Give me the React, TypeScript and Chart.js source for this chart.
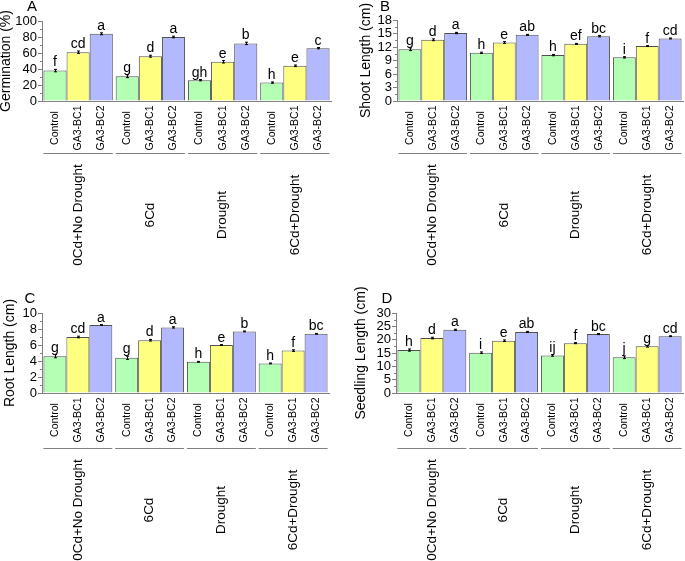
import React, { useEffect, useRef } from 'react';
import { Chart, registerables } from 'chart.js';

Chart.register(...registerables);

const GROUPS = ['0Cd+No Drought', '6Cd', 'Drought', '6Cd+Drought'];
const TREATMENTS = ['Control', 'GA3-BC1', 'GA3-BC2'];
const COLORS = ['#b3ffb3', '#ffff80', '#b3b9ff'];
const FONT = 'Liberation Sans, Arial, Helvetica, sans-serif';

// A: Germination (%)
const germControl = [38, 31, 26, 23];
const germBC1 = [61, 56, 49, 44];
const germBC2 = [84, 80, 72, 66];
const germErrControl = [1.5, 1.8, 0.8, 0.8];
const germErrBC1 = [1.5, 1.2, 1.5, 1.0];
const germErrBC2 = [1.2, 1.0, 1.5, 0.8];
const germLetters = [['f', 'g', 'gh', 'h'], ['cd', 'd', 'e', 'e'], ['a', 'a', 'b', 'c']];

// B: Shoot Length (cm)
const shootControl = [11.5, 10.7, 10.2, 9.7];
const shootBC1 = [13.6, 13.0, 12.7, 12.2];
const shootBC2 = [15.1, 14.7, 14.4, 13.9];
const shootErrControl = [0.3, 0.15, 0.15, 0.15];
const shootErrBC1 = [0.2, 0.2, 0.1, 0.1];
const shootErrBC2 = [0.15, 0.1, 0.15, 0.1];
const shootLetters = [['g', 'h', 'h', 'i'], ['d', 'e', 'ef', 'f'], ['a', 'ab', 'bc', 'cd']];

// C: Root Length (cm)
const rootControl = [4.6, 4.4, 3.9, 3.7];
const rootBC1 = [7.0, 6.6, 6.0, 5.3];
const rootBC2 = [8.5, 8.2, 7.7, 7.4];
const rootErrControl = [0.2, 0.2, 0.05, 0.05];
const rootErrBC1 = [0.1, 0.1, 0.05, 0.1];
const rootErrBC2 = [0.05, 0.08, 0.05, 0.05];
const rootLetters = [['g', 'g', 'h', 'h'], ['cd', 'd', 'e', 'f'], ['a', 'a', 'b', 'bc']];

// D: Seedling Length (cm)
const seedControl = [16.1, 15.1, 14.1, 13.4];
const seedBC1 = [20.6, 19.6, 18.7, 17.5];
const seedBC2 = [23.7, 22.9, 22.1, 21.3];
const seedErrControl = [0.4, 0.3, 0.3, 0.5];
const seedErrBC1 = [0.3, 0.3, 0.2, 0.3];
const seedErrBC2 = [0.2, 0.2, 0.2, 0.15];
const seedLetters = [['h', 'i', 'ij', 'j'], ['d', 'e', 'f', 'g'], ['a', 'ab', 'bc', 'cd']];

type PanelCfg = {
  letter: string;
  title: string;
  max: number;
  step: number;
  values: number[][];
  errs: number[][];
  letters: string[][];
  left: number;
  top: number;
  width: number;
  height: number;
  axisX: number;
  plotTop: number;
  plotBottom: number;
  plotRight: number;
  titleX: number;
  letterX: number;
  letterY: number;
  labelOff: number;
  lineOff: number;
  groupOff: number;
};

const PANELS: PanelCfg[] = [
  {
    letter: 'A', title: 'Germination (%)', max: 100, step: 20,
    values: [germControl, germBC1, germBC2],
    errs: [germErrControl, germErrBC1, germErrBC2],
    letters: germLetters,
    left: 0, top: 0, width: 342, height: 280,
    axisX: 42, plotTop: 21, plotBottom: 101, plotRight: 331,
    titleX: 6, letterX: 32, letterY: 7,
    labelOff: 27, lineOff: 52, groupOff: 114,
  },
  {
    letter: 'B', title: 'Shoot Length (cm)', max: 18, step: 3,
    values: [shootControl, shootBC1, shootBC2],
    errs: [shootErrControl, shootErrBC1, shootErrBC2],
    letters: shootLetters,
    left: 342, top: 0, width: 343, height: 280,
    axisX: 55, plotTop: 20, plotBottom: 101, plotRight: 341,
    titleX: 24, letterX: 43, letterY: 7,
    labelOff: 27, lineOff: 52, groupOff: 114,
  },
  {
    letter: 'C', title: 'Root Length (cm)', max: 10, step: 2,
    values: [rootControl, rootBC1, rootBC2],
    errs: [rootErrControl, rootErrBC1, rootErrBC2],
    letters: rootLetters,
    left: 0, top: 280, width: 342, height: 281,
    axisX: 42, plotTop: 33, plotBottom: 113, plotRight: 329,
    titleX: 10.5, letterX: 30, letterY: 18.5,
    labelOff: 27, lineOff: 55, groupOff: 117,
  },
  {
    letter: 'D', title: 'Seedling Length (cm)', max: 30, step: 5,
    values: [seedControl, seedBC1, seedBC2],
    errs: [seedErrControl, seedErrBC1, seedErrBC2],
    letters: seedLetters,
    left: 342, top: 280, width: 343, height: 281,
    axisX: 54, plotTop: 33, plotBottom: 113, plotRight: 341,
    titleX: 19.5, letterX: 45, letterY: 18.5,
    labelOff: 27, lineOff: 55, groupOff: 117,
  },
];

function Panel({ p }: { p: PanelCfg }) {
  const ref = useRef<HTMLCanvasElement>(null);
  useEffect(() => {
    const overlay = {
      id: 'overlay',
      afterDraw(chart: any) {
        const ctx = chart.ctx as CanvasRenderingContext2D;
        const y = chart.scales.y;
        const area = chart.chartArea;
        ctx.save();
        // minor ticks
        ctx.strokeStyle = '#808080';
        ctx.lineWidth = 1;
        for (let v = p.step / 2; v < p.max; v += p.step) {
          const py = Math.round(y.getPixelForValue(v)) + 0.5;
          ctx.beginPath();
          ctx.moveTo(area.left - 2, py);
          ctx.lineTo(area.left, py);
          ctx.stroke();
        }
        // error bars and letters
        for (let i = 0; i < 3; i++) {
          const meta = chart.getDatasetMeta(i);
          meta.data.forEach((bar: any, j: number) => {
            const v = p.values[i][j];
            const e = p.errs[i][j];
            const x = Math.round(bar.x) + 0.5;
            const yt = y.getPixelForValue(v + e);
            const yb = y.getPixelForValue(v - e);
            ctx.strokeStyle = '#000';
            ctx.beginPath();
            ctx.moveTo(x, yt);
            ctx.lineTo(x, yb);
            ctx.moveTo(x - 1.5, yt);
            ctx.lineTo(x + 1.5, yt);
            ctx.moveTo(x - 1.5, yb);
            ctx.lineTo(x + 1.5, yb);
            ctx.stroke();
            ctx.fillStyle = '#000';
            ctx.font = `14px ${FONT}`;
            ctx.textAlign = 'center';
            ctx.textBaseline = 'alphabetic';
            ctx.fillText(p.letters[i][j], bar.x, yt - 3);
            // tick label under bar
            ctx.save();
            ctx.translate(bar.x, area.bottom + p.labelOff);
            ctx.rotate(-Math.PI / 2);
            ctx.font = `10.5px ${FONT}`;
            ctx.textAlign = 'center';
            ctx.textBaseline = 'middle';
            ctx.fillText(TREATMENTS[i], 0, 0);
            ctx.restore();
          });
        }
        // group lines and labels
        const m0 = chart.getDatasetMeta(0);
        const m2 = chart.getDatasetMeta(2);
        GROUPS.forEach((g, j) => {
          const b0 = m0.data[j] as any;
          const b2 = m2.data[j] as any;
          const x0 = b0.x - b0.width / 2;
          const x1 = b2.x + b2.width / 2;
          const ly = Math.round(area.bottom + p.lineOff) + 0.5;
          ctx.strokeStyle = '#808080';
          ctx.beginPath();
          ctx.moveTo(x0, ly);
          ctx.lineTo(x1, ly);
          ctx.stroke();
          ctx.save();
          ctx.translate((x0 + x1) / 2, area.bottom + p.groupOff);
          ctx.rotate(-Math.PI / 2);
          ctx.font = `13.5px ${FONT}`;
          ctx.fillStyle = '#000';
          ctx.textAlign = 'center';
          ctx.textBaseline = 'middle';
          ctx.fillText(g, 0, 0);
          ctx.restore();
        });
        // axis title
        ctx.save();
        ctx.translate(p.titleX, (area.top + area.bottom) / 2);
        ctx.rotate(-Math.PI / 2);
        ctx.font = `14px ${FONT}`;
        ctx.fillStyle = '#000';
        ctx.textAlign = 'center';
        ctx.textBaseline = 'middle';
        ctx.fillText(p.title, 0, 0);
        ctx.restore();
        // panel letter
        ctx.font = `15px ${FONT}`;
        ctx.fillStyle = '#000';
        ctx.textAlign = 'center';
        ctx.textBaseline = 'middle';
        ctx.fillText(p.letter, p.letterX, p.letterY);
        ctx.restore();
      },
    };

    const chart = new Chart(ref.current as HTMLCanvasElement, {
      type: 'bar',
      data: {
        labels: GROUPS,
        datasets: TREATMENTS.map((t, i) => ({
          label: t,
          data: p.values[i],
          backgroundColor: COLORS[i],
          borderColor: '#505050',
          borderWidth: 1,
          categoryPercentage: 0.96,
          barPercentage: 1,
        })),
      },
      options: {
        animation: false,
        responsive: false,
        maintainAspectRatio: false,
        layout: {
          padding: {
            top: p.plotTop,
            bottom: p.height - p.plotBottom,
            left: 0,
            right: p.width - p.plotRight,
          },
        },
        plugins: {
          legend: { display: false },
          tooltip: { enabled: false },
        },
        scales: {
          x: {
            ticks: { display: false },
            grid: { display: false },
            border: { display: true, color: '#808080' },
            afterFit: (s: any) => { s.height = 0; },
          },
          y: {
            min: 0,
            max: p.max,
            ticks: {
              stepSize: p.step,
              autoSkip: false,
              font: { family: FONT, size: 13 },
              color: '#000',
              padding: 1,
            },
            grid: { drawOnChartArea: false, tickLength: 4, color: '#808080' },
            border: { display: true, color: '#808080' },
            afterFit: (s: any) => { s.width = p.axisX; },
          },
        },
      },
      plugins: [overlay],
    } as any);
    return () => chart.destroy();
  }, []);
  return (
    <canvas
      ref={ref}
      width={p.width}
      height={p.height}
      style={{ position: 'absolute', left: p.left, top: p.top, width: p.width, height: p.height }}
    />
  );
}

export default function App() {
  return (
    <div style={{ position: 'absolute', left: 0, top: 0, width: 685, height: 561, background: '#fff' }}>
      {PANELS.map((p) => (
        <Panel key={p.letter} p={p} />
      ))}
    </div>
  );
}
